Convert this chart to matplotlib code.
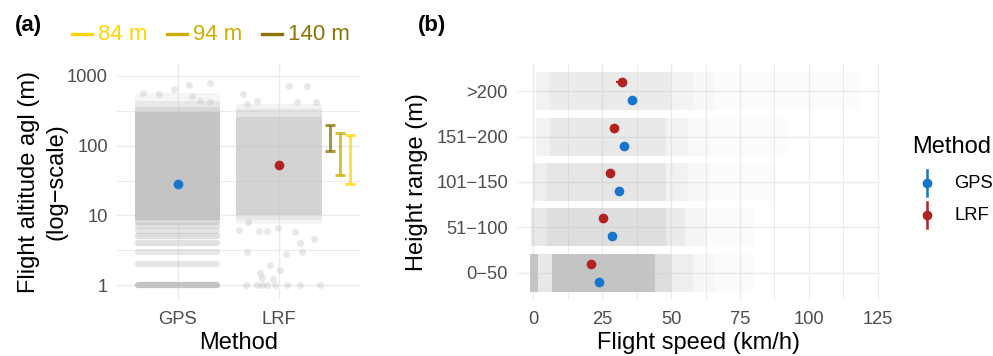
import matplotlib
matplotlib.use("Agg")
import matplotlib.pyplot as plt
from matplotlib.lines import Line2D
from matplotlib.ticker import FixedLocator, NullFormatter

plt.rcParams['font.family'] = ['Liberation Sans', 'DejaVu Sans']

# ---------------- panel (a): flight altitude by method ----------------
methods = ['GPS', 'LRF']
alt_mean = [28, 52]

# the jittered point clouds, read off the picture as density bands
# (lower altitude m, upper altitude m, opacity)
gps_bands = [(8.6, 300, 0.9), (300, 360, 0.6), (360, 440, 0.35), (440, 560, 0.14)]
gps_rows = [1, 2, 3, 4, 5, 6, 7, 8]          # integer altitudes (many fixes)
gps_row_density = [0.9, 0.4, 0.35, 0.45, 0.5, 0.4, 0.45, 0.55]
gps_sparse_jit = [0.32, 0.11, -0.04, -0.19, -0.34, 0.14, 0.22, 0.32]
gps_sparse_alt = [803, 745, 645, 550, 560, 518, 440, 417]

lrf_bands = [(7.5, 8.5, 0.15), (8.5, 10, 0.35), (10, 260, 0.68), (260, 330, 0.42),
             (330, 400, 0.18)]
lrf_sparse_jit = [-0.40, -0.31, -0.20, -0.12, -0.01, 0.16, 0.21, 0.35, -0.32, 0.07,
                  0.23, -0.09, 0.01, -0.19, -0.17, -0.06,
                  -0.33, -0.22, -0.17, -0.12, -0.04, 0.08, 0.21, 0.40,
                  -0.36, 0.10, 0.28, -0.32, -0.22, 0.18, 0.37]
lrf_sparse_alt = [6.2, 7.9, 5.9, 5.9, 6.6, 5.7, 4.0, 4.6, 3.0, 2.75,
                  3.0, 1.94, 1.64, 1.51, 1.28, 1.21,
                  1, 1, 1, 1, 1, 1, 1, 1,
                  550, 721, 721, 395, 440, 417, 417]

# rotor swept zones of three turbine types (hub height)
turbines = ['140 m', '94 m', '84 m']
rotor_low = [85, 38, 28]
rotor_high = [195, 150, 140]
turbine_colors = ['#8B7500', '#CDAD00', '#FFD700']

# ---------------- panel (b): flight speed by height range ----------------
height_ranges = ['0\u221250', '51\u2212100', '101\u2212150', '151\u2212200', '>200']
speed_gps = [23.8, 28.4, 31.2, 32.9, 35.7]
speed_lrf = [20.9, 25.3, 27.9, 29.4, 32.1]
ci_gps = [0.6, 0.6, 0.8, 1.0, 1.2]
ci_lrf = [0.6, 0.7, 0.8, 1.4, 2.0]
# speed clouds per height range: (lower km/h, upper km/h, opacity)
speed_bands = [
    [(-1.2, 1.8, 0.9), (1.8, 6.7, 0.35), (6.7, 44, 0.9), (44, 50, 0.5), (50, 58, 0.25),
     (58, 66, 0.12), (66, 80, 0.05)],
    [(-1, 5, 0.35), (5, 48, 0.5), (48, 55, 0.3), (55, 63, 0.15), (63, 80, 0.06)],
    [(0, 5, 0.25), (5, 48, 0.38), (48, 56, 0.2), (56, 64, 0.1), (64, 88, 0.04)],
    [(1, 6, 0.2), (6, 48, 0.33), (48, 56, 0.18), (56, 64, 0.08), (64, 92, 0.035)],
    [(1, 6, 0.2), (6, 50, 0.3), (50, 58, 0.18), (58, 66, 0.1), (66, 118, 0.04)],
]

GPS_COL = '#1874CD'
LRF_COL = '#B22222'
CLOUD = '#BEBEBE'
GRID = '#EBEBEB'
TICK = '#4D4D4D'

W, H = 993, 356
fig = plt.figure(figsize=(W / 100, H / 100), dpi=100)


def fx(x):
    return x / W


def fy(y):
    return 1 - y / H


def style(ax):
    for s in ax.spines.values():
        s.set_visible(False)
    ax.set_axisbelow(True)
    ax.grid(True, which='major', color=GRID, lw=1.0)
    ax.grid(True, which='minor', color=GRID, lw=0.7)
    ax.tick_params(which='both', length=0, labelsize=13.2, labelcolor=TICK)
    ax.tick_params(axis='x', pad=8)
    ax.tick_params(axis='y', pad=6.5)


# ---- (a)
ax1 = fig.add_axes([fx(117), 56 / H, 243 / W, 236 / H])
ax1.set_yscale('log')
for lo, hi, a in gps_bands:
    ax1.fill_between([0.58, 1.42], lo, hi, color=CLOUD, alpha=a, lw=0)
for r, a in zip(gps_rows, gps_row_density):
    ax1.plot([0.61, 1.39], [r, r], color=CLOUD, alpha=a, lw=4.5, solid_capstyle='round')
ax1.plot([1 + j for j in gps_sparse_jit], gps_sparse_alt, 'o', color=CLOUD, alpha=0.35,
         ms=5, mec='none')
for lo, hi, a in lrf_bands:
    ax1.fill_between([1.58, 2.42], lo, hi, color=CLOUD, alpha=a, lw=0)
ax1.plot([2 + j for j in lrf_sparse_jit], lrf_sparse_alt, 'o', color=CLOUD, alpha=0.35,
         ms=5, mec='none')

ax1.plot([1], alt_mean[:1], 'o', color=GPS_COL, ms=7, mec='none', zorder=5)
ax1.plot([2], alt_mean[1:], 'o', color=LRF_COL, ms=7, mec='none', zorder=5)

for i, (lo, hi, c) in enumerate(zip(rotor_low, rotor_high, turbine_colors)):
    xx = 2.5 + 0.1 * i
    ax1.vlines(xx, lo, hi, color=c, alpha=0.75, lw=2.2, zorder=4)
    ax1.hlines([lo, hi], xx - 0.05, xx + 0.05, color=c, alpha=0.75, lw=2.2, zorder=4)

ax1.set_xlim(0.4, 2.8)
ax1.set_ylim(10 ** -0.214, 10 ** 3.171)
ax1.set_xticks([1, 2])
ax1.set_xticklabels(methods)
ax1.set_yticks([1, 10, 100, 1000])
ax1.set_yticklabels(['1', '10', '100', '1000'])
ax1.yaxis.set_minor_locator(FixedLocator([10 ** 0.5, 10 ** 1.5, 10 ** 2.5]))
ax1.yaxis.set_minor_formatter(NullFormatter())
ax1.xaxis.set_minor_locator(FixedLocator([]))
style(ax1)
ax1.set_xlabel('Method', fontsize=17, labelpad=3)
ax1.set_ylabel('Flight altitude agl (m)\n(log\u2212scale)', fontsize=17, labelpad=0,
               linespacing=1.3)

# top legend for turbine heights
leg_x = [71.7, 166.7, 261.7]
for xx, lab, c in zip(leg_x, turbines[::-1], turbine_colors[::-1]):
    fig.add_artist(Line2D([fx(xx), fx(xx + 20)], [fy(34.3), fy(34.3)], color=c, lw=2.4))
    fig.text(fx(xx + 26), fy(40.5), lab, color=c, fontsize=16, va='baseline', ha='left')

fig.text(fx(15), fy(30.5), '(a)', fontsize=16, fontweight='bold', va='baseline')
fig.text(fx(418), fy(30.5), '(b)', fontsize=16, fontweight='bold', va='baseline')

# ---- (b)
ax2 = fig.add_axes([fx(517), 56 / H, 363 / W, 236 / H])
for i, bands in enumerate(speed_bands):
    y = i + 1
    for lo, hi, a in bands:
        ax2.fill_between([lo, hi], y - 0.42, y + 0.42, color=CLOUD, alpha=a, lw=0)

ypos = range(1, len(height_ranges) + 1)
ax2.errorbar(speed_gps, [y - 0.2 for y in ypos], xerr=ci_gps, fmt='o', color=GPS_COL,
             ms=7, mec='none', elinewidth=1.5, capsize=0, zorder=5)
ax2.errorbar(speed_lrf, [y + 0.2 for y in ypos], xerr=ci_lrf, fmt='o', color=LRF_COL,
             ms=7, mec='none', elinewidth=1.5, capsize=0, zorder=5)

ax2.set_xlim(-5.9, 125.8)
ax2.set_ylim(0.4, 5.6)
ax2.set_xticks([0, 25, 50, 75, 100, 125])
ax2.xaxis.set_minor_locator(FixedLocator([12.5, 37.5, 62.5, 87.5, 112.5]))
ax2.set_yticks(list(ypos))
ax2.set_yticklabels(height_ranges)
style(ax2)
ax2.set_xlabel('Flight speed (km/h)', fontsize=17, labelpad=3)
ax2.set_ylabel('Height range (m)', fontsize=17, labelpad=6)

# legend for method
fig.text(fx(911.7), fy(153.3), 'Method', fontsize=17, va='baseline', ha='left')
for yy, lab, c in [(183.3, 'GPS', GPS_COL), (215, 'LRF', LRF_COL)]:
    fig.add_artist(Line2D([fx(926.7), fx(926.7)], [fy(yy - 13), fy(yy + 13)], color=c, lw=1.8))
    fig.add_artist(Line2D([fx(926.7)], [fy(yy)], marker='o', color=c, ms=7, mec='none'))
    fig.text(fx(954), fy(yy), lab, fontsize=13.2, va='center', ha='left')

fig.savefig('out.png', dpi=100)
